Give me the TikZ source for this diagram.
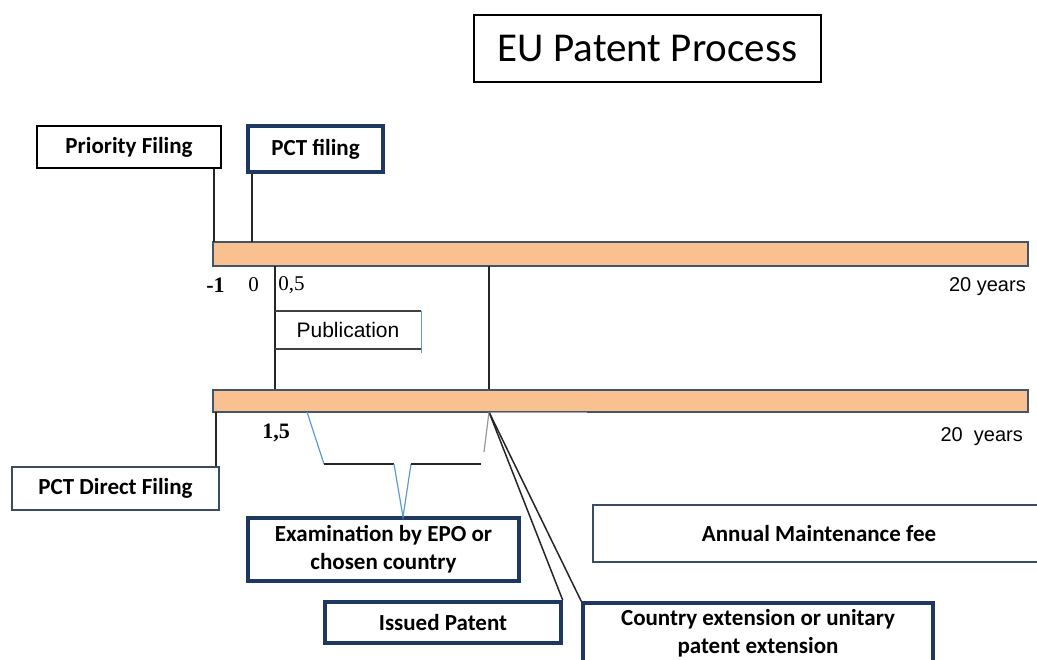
\documentclass[tikz,border=0pt]{standalone}
\usepackage{fontspec}
\newfontfamily\carlito{Carlito}
\newfontfamily\arialf{Liberation Sans}
\newfontfamily\timesf{Liberation Serif}
\definecolor{barfill}{RGB}{248,193,143}
\definecolor{barline}{RGB}{68,84,106}
\definecolor{navy}{RGB}{31,56,96}
\definecolor{slate}{RGB}{60,75,100}
\definecolor{bluel}{RGB}{91,155,213}
\begin{document}
\begin{tikzpicture}[x=1pt,y=-1pt,
  box/.style={draw=black, line width=1.5pt, fill=white, inner sep=0pt, align=center,
    font=\carlito\bfseries\fontsize{23}{28}\selectfont},
  navybox/.style={box, draw=navy, line width=3.5pt},
  slatebox/.style={box, draw=slate, line width=1.5pt},
  bar/.style={draw=barline, fill=barfill, line width=1.5pt, inner sep=0pt},
  conn/.style={line width=1.5pt, draw=black!85},
  num/.style={font=\timesf\fontsize{21}{24}\selectfont, inner sep=0pt},
  bnum/.style={font=\timesf\bfseries\fontsize{22}{24}\selectfont, inner sep=0pt},
  yrs/.style={font=\arialf\fontsize{20}{24}\selectfont, inner sep=0pt, anchor=east},
  brace/.style={line width=1.2pt}
]
\useasboundingbox (0,0) rectangle (1037,660);

% title
\node[box, line width=2pt, font=\carlito\fontsize{41}{44}\selectfont,
  minimum width=347, minimum height=67] (title) at (647.5,49) {EU Patent Process};

% filing boxes above the first time line
\node[box, minimum width=184, minimum height=42] (prio) at (129,147) {Priority Filing};
\node[navybox, minimum width=135, minimum height=46] (pct) at (315.5,149) {PCT filing};

% time lines
\node[bar, minimum width=815, minimum height=24] (bar1) at (620.5,254) {};
\node[bar, minimum width=815, minimum height=22] (bar2) at (620.5,401) {};

% points on the time lines
\coordinate (tm1) at (214,242);
\coordinate (t0) at (252,242);
\coordinate (th) at (275,266);
\coordinate (tx) at (489,266);
\coordinate (td) at (216,412);
\coordinate (tiss) at (489,412);

\draw[conn] (prio.south -| tm1) -- (tm1);
\draw[conn] (pct.south -| t0) -- (t0);
\draw[conn] (th) -- (th |- bar2.north);
\draw[conn] (tx) -- (tx |- bar2.north);

% year labels
\node[bnum] (lm1) at (215.5,285) {-1};
\node[num] (l0) at (253.5,285) {0};
\node[num] (lh) at (291.5,285) {0,5};
\node[yrs] (y1) at (1026,287) {20 years};
\node[bnum] (l15) at (276,433) {1,5};
\node[yrs] (y2) at (1023,437) {20\ \ years};

% publication
\node[inner sep=0pt, minimum width=146, minimum height=38,
  font=\arialf\fontsize{21}{24}\selectfont] (pub) at (348,330) {Publication};
\draw[line width=1.5pt, black!75] (pub.north west) -- (pub.north east);
\draw[line width=1.5pt, black!75] (pub.south west) -- (pub.south east);
\draw[line width=1.2pt, bluel] (pub.north east) -- ([yshift=-4pt]pub.south east);

% boxes below the second time line
\node[slatebox, minimum width=207, minimum height=43] (pctd) at (115.5,488.5) {PCT Direct Filing};
\node[navybox, minimum width=271, minimum height=63] (exam) at (383.5,549.5)
  {Examination by EPO or\\chosen country};
\node[navybox, minimum width=236, minimum height=41] (iss) at (443,622.5) {Issued Patent};
\node[navybox, minimum width=350, minimum height=60] (ctry) at (758,633)
  {Country extension or unitary\\patent extension};
\node[slatebox, minimum width=452, minimum height=57] (fee) at (819,533.5) {Annual Maintenance fee};

\draw[conn] (td) -- (td |- pctd.north);
\draw[line width=1pt, black!35] (tiss) ++(0,1) -- (587,413);
\draw[conn] (tiss) -- (iss.north east);
\draw[conn] (tiss) -- (ctry.north west);

% examination bracket
\coordinate (b1) at (307,412);
\coordinate (b2) at (324,464);
\coordinate (b3) at (394,464);
\coordinate (b4) at (403,517);
\coordinate (b5) at (411,464);
\coordinate (b6) at (481,464);
\coordinate (b7) at (484,452);
\draw[brace, bluel] (b1) -- (b2);
\draw[brace, black!85] (b2) -- (b3);
\draw[brace, bluel] (b3) -- (b4) -- (b5);
\draw[brace, black!85] (b5) -- (b6);
\draw[brace, black!40] (b7) -- (tiss);
\end{tikzpicture}
\end{document}
